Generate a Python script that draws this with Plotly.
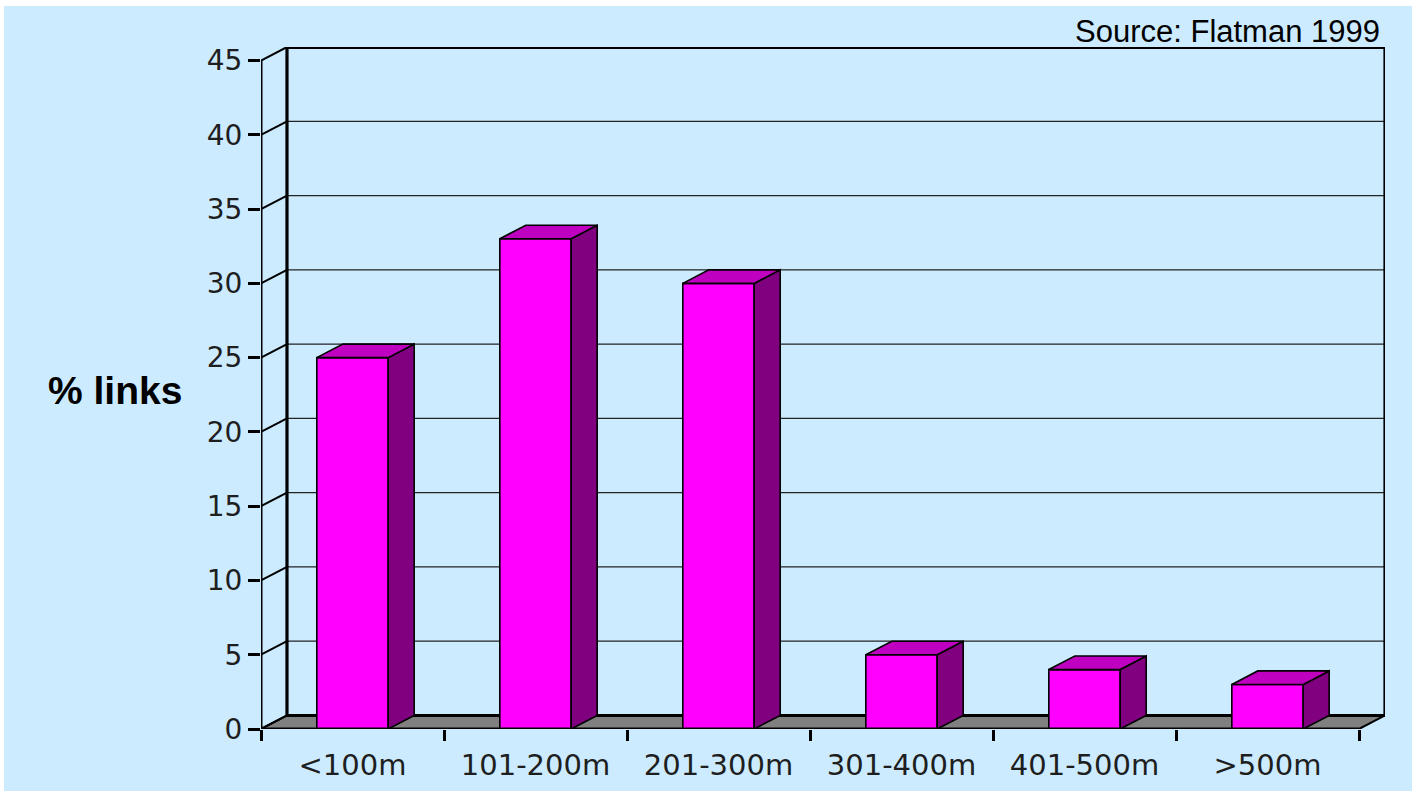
import plotly.graph_objects as go

# ---- data ----
categories = ["<100m", "101-200m", "201-300m", "301-400m", "401-500m", ">500m"]
pct_links = [25, 33, 30, 5, 4, 3]
y_ticks = [0, 5, 10, 15, 20, 25, 30, 35, 40, 45]
y_title = "% links"
source_note = "Source: Flatman 1999"

# ---- style constants ----
BG = "#CCEBFE"
FRONT = "#FF00FF"
SIDE = "#800080"
TOP = "#C000C0"
FLOOR = "#808080"
DX = 0.142          # depth offset in category units
DY = 0.91           # depth offset in value units
BAR_W = 0.39
N = len(categories)
YMAX = y_ticks[-1]

centers = [i + 0.5 for i in range(N)]

fig = go.Figure()

# front faces
fig.add_trace(go.Bar(
    x=centers, y=pct_links, width=BAR_W,
    marker=dict(color=FRONT, line=dict(color="black", width=1.6)),
    hoverinfo="skip", showlegend=False,
))

# side and top faces
for c, v in zip(centers, pct_links):
    l, r = c - BAR_W / 2, c + BAR_W / 2
    fig.add_trace(go.Scatter(
        x=[r, r + DX, r + DX, r, r], y=[0, DY, v + DY, v, 0],
        fill="toself", fillcolor=SIDE, mode="lines",
        line=dict(color="black", width=1.6), hoverinfo="skip", showlegend=False,
    ))
    fig.add_trace(go.Scatter(
        x=[l, l + DX, r + DX, r, l], y=[v, v + DY, v + DY, v, v],
        fill="toself", fillcolor=TOP, mode="lines",
        line=dict(color="black", width=1.6), hoverinfo="skip", showlegend=False,
    ))

shapes = []
# floor
shapes.append(dict(type="path", xref="x", yref="y", layer="below",
                   path=f"M 0,0 L {N},0 L {N + DX},{DY} L {DX},{DY} Z",
                   fillcolor=FLOOR, line=dict(color="black", width=2)))
# back wall gridlines
for t in y_ticks[1:-1]:
    shapes.append(dict(type="line", xref="x", yref="y", layer="below",
                       x0=DX, x1=N + DX, y0=t + DY, y1=t + DY,
                       line=dict(color="#222222", width=1.3)))
# left wall diagonals
for t in y_ticks:
    shapes.append(dict(type="line", xref="x", yref="y", layer="below",
                       x0=0, x1=DX, y0=t, y1=t + DY,
                       line=dict(color="black", width=2)))
# back wall frame
shapes.append(dict(type="rect", xref="x", yref="y", layer="below",
                   x0=DX, x1=N + DX, y0=DY, y1=YMAX + DY,
                   line=dict(color="black", width=3.2)))
shapes.append(dict(type="line", xref="x", yref="y", layer="below",
                   x0=DX, x1=N + DX, y0=YMAX + DY, y1=YMAX + DY,
                   line=dict(color="black", width=4.2)))
# front axes lines
shapes.append(dict(type="line", xref="x", yref="y", layer="above",
                   x0=0, x1=0, y0=0, y1=YMAX, line=dict(color="black", width=3)))
shapes.append(dict(type="line", xref="x", yref="y", layer="above",
                   x0=0, x1=N, y0=0, y1=0, line=dict(color="black", width=3)))

fig.update_layout(
    width=1408, height=785,
    margin=dict(l=257, r=27, t=41, b=62, autoexpand=False),
    paper_bgcolor=BG, plot_bgcolor=BG,
    showlegend=False,
    shapes=shapes,
    font=dict(family="DejaVu Sans", size=28, color="#1e1e1e"),
    xaxis=dict(range=[0, N + DX], tickvals=list(range(N + 1)), ticktext=[""] * (N + 1),
               ticks="outside", ticklen=11, tickwidth=3, tickcolor="black", automargin=False,
               showgrid=False, zeroline=False, showline=False, fixedrange=True),
    xaxis2=dict(range=[0, N + DX], overlaying="x", anchor="y", side="bottom",
                tickvals=centers, ticktext=categories, ticks="", automargin=False,
                ticklabelstandoff=16,
                showgrid=False, zeroline=False, showline=False, fixedrange=True,
                tickfont=dict(family="DejaVu Sans", size=29, color="#1e1e1e")),
    yaxis=dict(range=[0, YMAX + DY], tickvals=y_ticks, automargin=False,
               ticks="outside", ticklen=12, tickwidth=3, tickcolor="black",
               showgrid=False, zeroline=False, showline=False, fixedrange=True,
               tickfont=dict(family="DejaVu Sans", size=28, color="#1e1e1e")),
    annotations=[
        dict(text=y_title, xref="paper", yref="paper", x=(46 - 261) / 1124, y=(729 - 390) / 682,
             xanchor="left", yanchor="middle", showarrow=False,
             font=dict(family="Liberation Sans", size=39, color="black", weight="bold")),
        dict(text=source_note, xref="paper", yref="paper", x=(1382 - 261) / 1124,
             y=(729 - 31) / 682, xanchor="right", yanchor="middle", showarrow=False,
             font=dict(family="Liberation Sans", size=31, color="black")),
    ],
)
# dummy trace to activate xaxis2
fig.add_trace(go.Scatter(x=[None], y=[None], xaxis="x2", yaxis="y", showlegend=False,
                         hoverinfo="skip"))

fig.write_html("out.html", config={"displayModeBar": False},
               post_script="document.body.style.margin='6px 0 0 4px';document.body.style.overflow='hidden';document.body.style.background='white';")
